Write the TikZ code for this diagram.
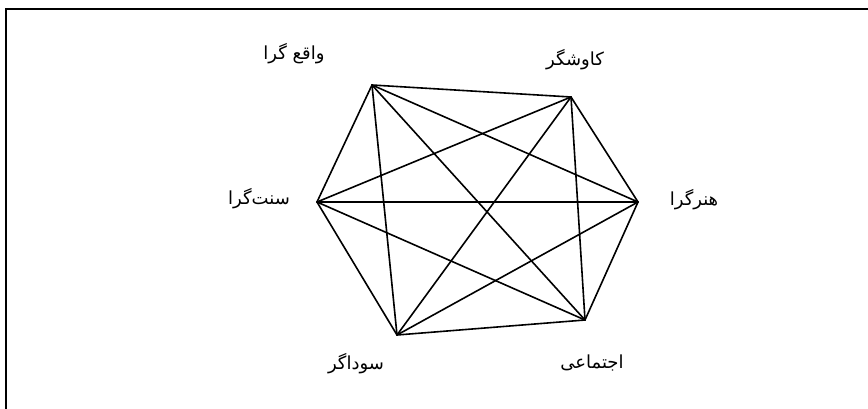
\documentclass[tikz,border=0pt]{standalone}
\usepackage{fontspec}
\usepackage{tikz}
\usetikzlibrary{calc,positioning}
\newfontfamily\arabicfont[Script=Arabic]{DejaVu Sans}
\TeXXeTstate=1
\tikzset{
  edg/.style={line width=1.6pt,black,line cap=round},
  frm/.style={line width=2pt,black},
  lbl/.style={font=\arabicfont\fontsize{18}{20}\selectfont,inner sep=0pt}
}

\begin{document}
\begin{tikzpicture}[x=1pt,y=-1pt]
\useasboundingbox (0,0) rectangle (868,409);
\draw[frm] (868,9) -- (6,9) -- (6,409);
% hexagon corners
\coordinate (vaqe) at (372,85);
\coordinate (kavo) at (571,97);
\coordinate (honr) at (638,202);
\coordinate (ejte) at (585,320);
\coordinate (soud) at (397,335);
\coordinate (sont) at (317,202);
\foreach \a/\b in {vaqe/kavo,vaqe/honr,vaqe/ejte,vaqe/soud,vaqe/sont,
                   kavo/honr,kavo/ejte,kavo/soud,kavo/sont,
                   honr/ejte,honr/soud,honr/sont,
                   ejte/soud,ejte/sont,soud/sont}
  {\draw[edg] (\a) -- (\b);}
\node[lbl] (vaqeL) at (294,54) {\beginR واقع گرا\endR};
\node[lbl] (kavoL) at (575,60) {\beginR کاوشگر\endR};
\node[lbl] (sontL) at (259,199) {\beginR سنت‌گرا\endR};
\node[lbl] (honrL) at (694,200) {\beginR هنرگرا\endR};
\node[lbl] (soudL) at (356,364) {\beginR سوداگر\endR};
\node[lbl] (ejteL) at (592,363) {\beginR اجتماعی\endR};
\end{tikzpicture}
\end{document}
